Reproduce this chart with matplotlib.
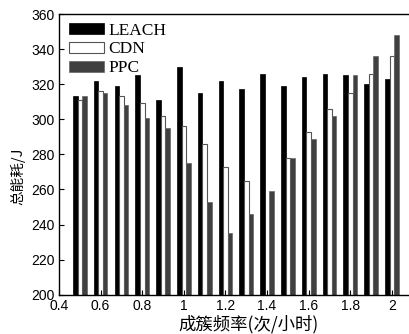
import numpy as np
import matplotlib
matplotlib.use('Agg')
import matplotlib.pyplot as plt

# 成簇频率 (次/小时)
freq = [0.5, 0.6, 0.7, 0.8, 0.9, 1.0, 1.1, 1.2, 1.3, 1.4, 1.5, 1.6, 1.7, 1.8, 1.9, 2.0]
# 总能耗 / J
leach = [313, 322, 319, 325, 311, 330, 315, 322, 317, 326, 319, 324, 326, 325, 320, 323]
cdn = [311, 316, 313, 309, 302, 296, 286, 273, 265, 0, 278, 293, 306, 315, 326, 336]
ppc = [313, 315, 308, 301, 295, 275, 253, 235, 246, 259, 278, 289, 302, 325, 336, 348]

plt.rcParams['font.family'] = ['Liberation Sans', 'DejaVu Sans']

fig = plt.figure(figsize=(4.10, 3.34), dpi=100)
ax = fig.add_axes([59 / 410, 39.3 / 334, 351 / 410, 280.7 / 334])

x = np.array(freq)
w = 0.022
b1 = ax.bar(x - w, leach, w, color='black', edgecolor='black', linewidth=0.5, label='LEACH')
b2 = ax.bar(x, cdn, w, color='white', edgecolor='#555555', linewidth=0.8, label='CDN')
b3 = ax.bar(x + w, ppc, w, color='#404040', edgecolor='#666666', linewidth=0.5, label='PPC')

ax.set_xlim(0.4, 2.087)
ax.set_ylim(200, 360)
ax.set_xticks([0.4, 0.6, 0.8, 1, 1.2, 1.4, 1.6, 1.8, 2])
ax.set_xticklabels(['0.4', '0.6', '0.8', '1', '1.2', '1.4', '1.6', '1.8', '2'])
ax.set_yticks(np.arange(200, 361, 20))
ax.tick_params(direction='in', length=3.5, width=0.8, labelsize=10, pad=3)
ax.spines['right'].set_visible(False)
for s in ['left', 'bottom', 'top']:
    ax.spines[s].set_linewidth(1.0)

ax.set_ylabel('总能耗/J', family=['Noto Sans CJK SC', 'DejaVu Sans'], fontsize=10.5)
ax.yaxis.set_label_coords(-0.097, 0.42)
ax.set_xlabel('成簇频率(次/小时)', family=['Noto Sans CJK SC', 'DejaVu Sans'], fontsize=12.5)
ax.xaxis.set_label_coords(0.54, -0.072)

leg = ax.legend(handles=[b1, b2, b3], loc='upper left',
                bbox_to_anchor=(10 / 351, (294.7 - 22.5) / 280.7),
                frameon=False, borderpad=0, borderaxespad=0,
                handlelength=2.0, handleheight=0.58, handletextpad=0.25,
                labelspacing=0.17,
                prop={'family': 'Liberation Serif', 'size': 12.5})

fig.savefig('out.png', dpi=100)
